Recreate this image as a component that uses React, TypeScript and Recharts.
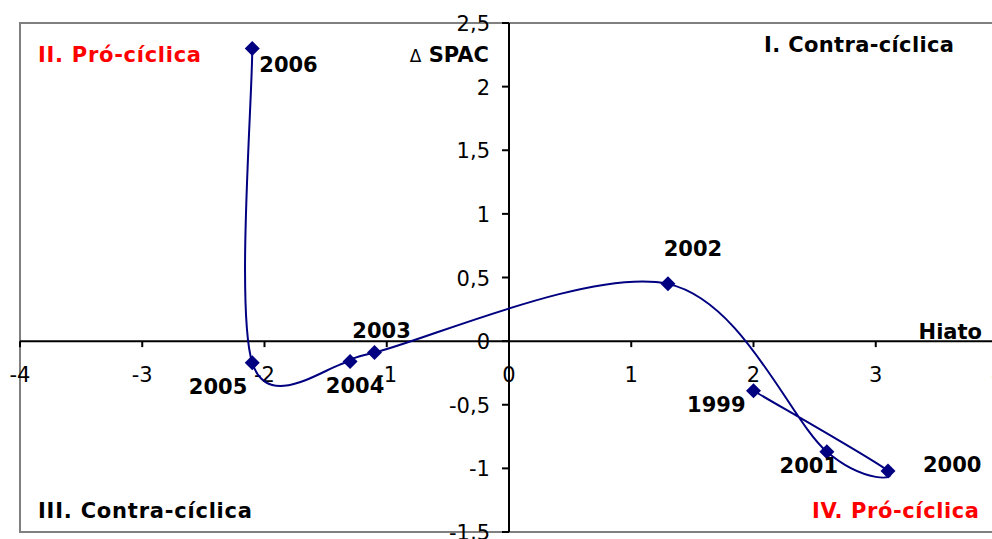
import {
  ReferenceArea,
  ReferenceDot,
  ReferenceLine,
  Scatter,
  ScatterChart,
  XAxis,
  YAxis,
} from "recharts";

const years = ["1999", "2000", "2001", "2002", "2003", "2004", "2005", "2006"];
const hiato = [2.0, 3.1, 2.6, 1.3, -1.1, -1.3, -2.1, -2.1];
const spac = [-0.39, -1.02, -0.87, 0.45, -0.09, -0.16, -0.17, 2.3];

const xTicks = [-4, -3, -2, -1, 0, 1, 2, 3, 4];
const yTicks = [-1.5, -1, -0.5, 0, 0.5, 1, 1.5, 2, 2.5];

const data = years.map((year, i) => ({ year, x: hiato[i], y: spac[i] }));

// where each year label sits relative to its marker (px)
const labelPos: Record<string, { dx: number; dy: number; anchor: "start" | "middle" | "end" }> = {
  "1999": { dx: -8, dy: 21, anchor: "end" },
  "2000": { dx: 35, dy: 1, anchor: "start" },
  "2001": { dx: -18, dy: 21, anchor: "middle" },
  "2002": { dx: 25, dy: -28, anchor: "middle" },
  "2003": { dx: 7, dy: -15, anchor: "middle" },
  "2004": { dx: 5, dy: 32, anchor: "middle" },
  "2005": { dx: -5, dy: 31, anchor: "end" },
  "2006": { dx: 7, dy: 24, anchor: "start" },
};

const NAVY = "#000080";
const FONT = "'DejaVu Sans', Verdana, sans-serif";
const fmt = (v: number) => String(v).replace(".", ",");

// Excel-style smoothed line: cubic Bezier, tangents (next - prev) / 6
const excelSmooth = (context: any) => {
  let pts: [number, number][] = [];
  return {
    areaStart() {},
    areaEnd() {},
    lineStart() {
      pts = [];
    },
    point(x: number, y: number) {
      pts.push([+x, +y]);
    },
    lineEnd() {
      if (!pts.length) return;
      context.moveTo(pts[0][0], pts[0][1]);
      for (let i = 0; i < pts.length - 1; i++) {
        const p0 = pts[i - 1] ?? pts[i];
        const p1 = pts[i];
        const p2 = pts[i + 1];
        const p3 = pts[i + 2] ?? p2;
        context.bezierCurveTo(
          p1[0] + (p2[0] - p0[0]) / 6,
          p1[1] + (p2[1] - p0[1]) / 6,
          p2[0] - (p3[0] - p1[0]) / 6,
          p2[1] - (p3[1] - p1[1]) / 6,
          p2[0],
          p2[1]
        );
      }
    },
  };
};

function Marker(props: any) {
  const { cx, cy, payload } = props;
  const s = 7.5;
  const pos = labelPos[payload?.year] ?? { dx: 8, dy: 0, anchor: "start" };
  return (
    <g>
      <polygon
        points={`${cx},${cy - s} ${cx + s},${cy} ${cx},${cy + s} ${cx - s},${cy}`}
        fill={NAVY}
      />
      <text
        x={cx + pos.dx}
        y={cy + pos.dy}
        textAnchor={pos.anchor}
        fontFamily={FONT}
        fontSize={21}
        fontWeight="bold"
        fill="#000"
      >
        {payload?.year}
      </text>
    </g>
  );
}

function YTick(props: any) {
  const { cx, cy, value } = props;
  return (
    <g>
      <line x1={cx - 7} y1={cy} x2={cx} y2={cy} stroke="#000" strokeWidth={2} />
      <text x={cx - 19} y={cy + 8} textAnchor="end" fontFamily={FONT} fontSize={21} fill="#000">
        {fmt(value)}
      </text>
    </g>
  );
}

function XTick(props: any) {
  const { cx, cy, value } = props;
  return (
    <g>
      <line x1={cx} y1={cy} x2={cx} y2={cy + 6} stroke="#000" strokeWidth={2} />
      <text x={cx} y={cy + 41} textAnchor="middle" fontFamily={FONT} fontSize={21} fill="#000">
        {fmt(value)}
      </text>
    </g>
  );
}

export default function App() {
  const bold = { fontFamily: FONT, fontSize: 21, fontWeight: "bold" as const };
  return (
    <div
      style={{
        position: "fixed",
        left: 0,
        top: 0,
        width: 992,
        height: 539,
        overflow: "hidden",
        background: "#fff",
      }}
    >
      <ScatterChart width={1020} height={560} margin={{ top: 23, left: 20, right: 22, bottom: 28 }}>
        <XAxis type="number" dataKey="x" domain={[-4, 4]} hide allowDataOverflow />
        <YAxis type="number" dataKey="y" domain={[-1.5, 2.5]} hide allowDataOverflow />
        <ReferenceArea
          x1={-4}
          x2={4}
          y1={-1.5}
          y2={2.5}
          fill="none"
          fillOpacity={0}
          stroke="#808080"
          strokeWidth={2}
        />
        <ReferenceLine x={0} stroke="#000" strokeWidth={2} />
        <ReferenceLine y={0} stroke="#000" strokeWidth={2} />
        {yTicks.map((v) => (
          <ReferenceDot key={"y" + v} x={0} y={v} r={0} shape={(p: any) => <YTick {...p} value={v} />} />
        ))}
        {xTicks.map((v) => (
          <ReferenceDot key={"x" + v} x={v} y={0} r={0} shape={(p: any) => <XTick {...p} value={v} />} />
        ))}
        <Scatter
          data={data}
          line={{ stroke: NAVY, strokeWidth: 2 }}
          lineJointType={excelSmooth as any}
          shape={Marker}
          isAnimationActive={false}
        />
        <g>
          <text x={38} y={62} fill="#ff0000" textLength={163} lengthAdjust="spacing" {...bold}>
            II. Pró-cíclica
          </text>
          <text x={764} y={52} fill="#000" textLength={190} lengthAdjust="spacing" {...bold}>
            I. Contra-cíclica
          </text>
          <text x={38} y={518} fill="#000" textLength={214} lengthAdjust="spacing" {...bold}>
            III. Contra-cíclica
          </text>
          <text x={812} y={518} fill="#ff0000" textLength={167} lengthAdjust="spacing" {...bold}>
            IV. Pró-cíclica
          </text>
          <text x={489} y={62} textAnchor="end" fill="#000" {...bold}>
            <tspan fontWeight="normal" fontSize={17}>Δ</tspan> SPAC
          </text>
          <text x={982} y={339} textAnchor="end" fill="#000" {...bold}>
            Hiato
          </text>
        </g>
      </ScatterChart>
    </div>
  );
}
